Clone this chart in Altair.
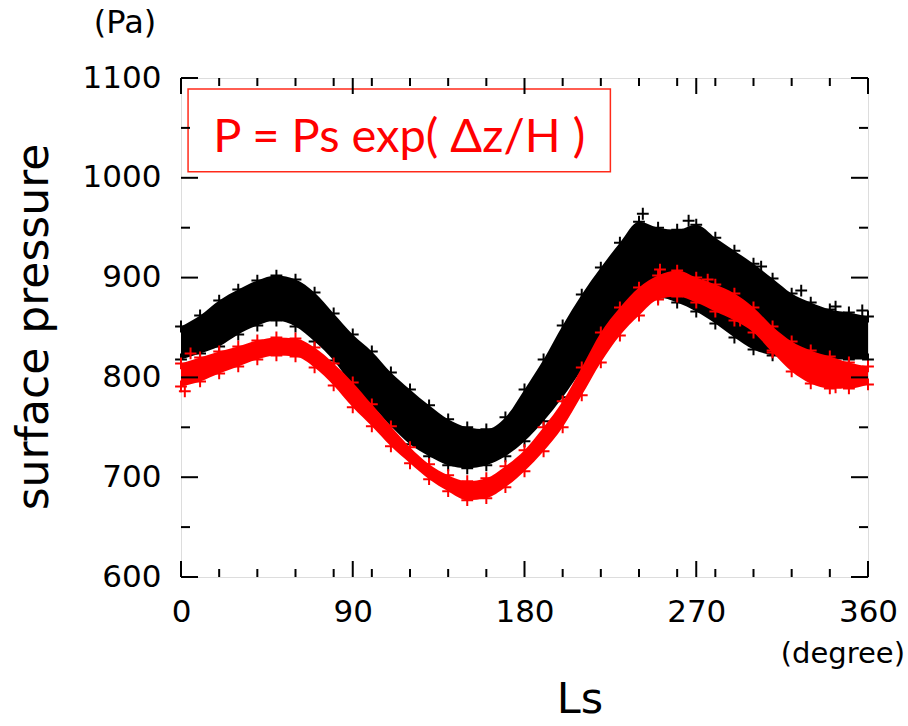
import altair as alt
import pandas as pd

# ---- data ----
ls_grid = list(range(0, 361, 10))
black_upper = [851, 862, 877, 888, 897, 902, 898, 885, 864, 843, 826, 805, 788, 772, 758, 750, 748, 760, 788, 818,
               852, 883, 910, 935, 956, 950, 948, 953, 940, 927, 914, 899, 884, 875, 868, 865, 861]
black_lower = [818, 824, 831, 843, 852, 857, 851, 836, 817, 792, 772, 751, 733, 721, 712, 709, 712, 721, 736, 756,
               780, 808, 837, 862, 876, 880, 875, 866, 854, 840, 828, 822, 820, 820, 818, 818, 818]
red_upper = [814, 820, 826, 831, 837, 840, 839, 830, 814, 795, 773, 751, 730, 713, 702, 696, 699, 711, 727, 750,
             776, 810, 845, 870, 890, 902, 907, 900, 893, 884, 870, 851, 836, 827, 821, 815, 811]
red_lower = [791, 796, 804, 811, 818, 822, 821, 810, 792, 770, 751, 731, 714, 698, 686, 677, 679, 690, 706, 726,
             750, 782, 815, 842, 862, 878, 881, 875, 866, 857, 845, 825, 806, 794, 789, 789, 793]

black_out_ls = [242, 266, 304, 325, 343, 357]
black_out_p = [964, 957, 911, 887, 871, 867]
red_out_ls = [2, 5, 251, 276, 293, 310, 327, 343]
red_out_p = [786, 824, 908, 898, 857, 827, 820, 790]

x_major = [0, 90, 180, 270, 360]
x_minor = [20, 40, 60, 80, 100, 120, 140, 160, 200, 220, 240, 260, 280, 300, 320, 340]
y_major = [600, 700, 800, 900, 1000, 1100]
y_minor = [650, 750, 850, 950, 1050]

formula = "P = Ps exp( Δz/H )"
box_ls = [3.7, 225]
box_p = [1006, 1089]

W, H = 687, 499
FONT = "DejaVu Sans"

xs = alt.Scale(domain=[0, 360], nice=False, zero=False)
ys = alt.Scale(domain=[600, 1100], nice=False, zero=False)
xaxis = alt.Axis(values=x_major, ticks=False, domain=False, grid=False, title=None, format="d",
                 labelFont=FONT, labelFontSize=31, labelColor="black", labelPadding=20,
                 labelFlush=False, labelOverlap=False)
yaxis = alt.Axis(values=y_major, ticks=False, domain=False, grid=False, title=None, format="d",
                 labelFont=FONT, labelFontSize=31, labelColor="black", labelPadding=20,
                 labelOverlap=False)


def X(f="Ls"):
    return alt.X(f + ":Q", scale=xs, axis=xaxis)


def Y(f="p"):
    return alt.Y(f + ":Q", scale=ys, axis=yaxis)


band_black = pd.DataFrame({"Ls": ls_grid, "lo": black_lower, "hi": black_upper})
band_red = pd.DataFrame({"Ls": ls_grid, "lo": red_lower, "hi": red_upper})


def edges(lo, hi):
    return pd.DataFrame({"Ls": ls_grid + ls_grid, "p": lo + hi})


CROSS = "M-1,0L1,0M0,-1L0,1"

layers = []
for band, lo, hi, ols, op, col in [
    (band_black, black_lower, black_upper, black_out_ls, black_out_p, "#000000"),
    (band_red, red_lower, red_upper, red_out_ls, red_out_p, "#ff0000"),
]:
    layers.append(alt.Chart(band).mark_area(color=col, interpolate="monotone", opacity=1).encode(
        x=X(), y=alt.Y("lo:Q", scale=ys, axis=yaxis), y2="hi:Q"))
    layers.append(alt.Chart(edges(lo, hi)).mark_point(shape=CROSS, size=140, strokeWidth=2,
                                                       color=col, filled=False, opacity=1).encode(x=X(), y=Y()))
    layers.append(alt.Chart(pd.DataFrame({"Ls": ols, "p": op})).mark_point(
        shape=CROSS, size=140, strokeWidth=2, color=col, filled=False, opacity=1).encode(x=X(), y=Y()))

# annotation box
box = alt.Chart(pd.DataFrame({"Ls": [box_ls[0]], "Ls2": [box_ls[1]], "p": [box_p[0]], "p2": [box_p[1]]})).mark_rect(
    fill="white", stroke="#ff2a1a", strokeWidth=1.5).encode(x=X(), x2="Ls2:Q", y=Y(), y2="p2:Q")
box_text = alt.Chart(pd.DataFrame({"Ls": [(box_ls[0] + box_ls[1]) / 2], "p": [1026], "t": [formula]})).mark_text(
    font="Lato", fontSize=47, color="#ff0000", align="center", baseline="alphabetic").encode(
    x=X(), y=Y(), text="t:N")


# inward ticks
def xt(vals, length, top):
    d = pd.DataFrame({"Ls": vals})
    if top:
        return alt.Chart(d).mark_rule(color="black", strokeWidth=2).encode(
            x=X(), y=alt.value(0), y2=alt.value(length))
    return alt.Chart(d).mark_rule(color="black", strokeWidth=2).encode(
        x=X(), y=alt.value(H), y2=alt.value(H - length))


def yt(vals, length, right):
    d = pd.DataFrame({"p": vals})
    if right:
        return alt.Chart(d).mark_rule(color="black", strokeWidth=2).encode(
            y=Y(), x=alt.value(W), x2=alt.value(W - length))
    return alt.Chart(d).mark_rule(color="black", strokeWidth=2).encode(
        y=Y(), x=alt.value(0), x2=alt.value(length))


ticks = [xt(x_major, 16, False), xt(x_major, 16, True), xt(x_minor, 8, False), xt(x_minor, 8, True),
         yt(y_major, 17, False), yt(y_major, 17, True), yt(y_minor, 9, False), yt(y_minor, 9, True)]


def label(txt, x, y, size, angle=0, align="center", baseline="middle"):
    return alt.Chart(pd.DataFrame({"t": [txt]})).mark_text(
        font=FONT, fontSize=size, color="black", align=align, baseline=baseline, angle=angle).encode(
        x=alt.value(x), y=alt.value(y), text="t:N")


texts = [
    label("surface pressure", -146, 249, 44, angle=270),
    label("(Pa)", -56, -55, 32),
    label("(degree)", W + 37, 576, 29, align="right"),
    label("Ls", 399, 635, 43, baseline="alphabetic"),
]

chart = alt.layer(*layers, box, box_text, *ticks, *texts).properties(
    width=W, height=H,
    autosize=alt.AutoSizeParams(type="none"),
    padding={"left": 181, "top": 78, "right": 40, "bottom": 149},
).configure_view(stroke="black", strokeWidth=2.5).configure(background="white")

chart.save("out.html", embed_options={"renderer": "svg", "actions": False})
